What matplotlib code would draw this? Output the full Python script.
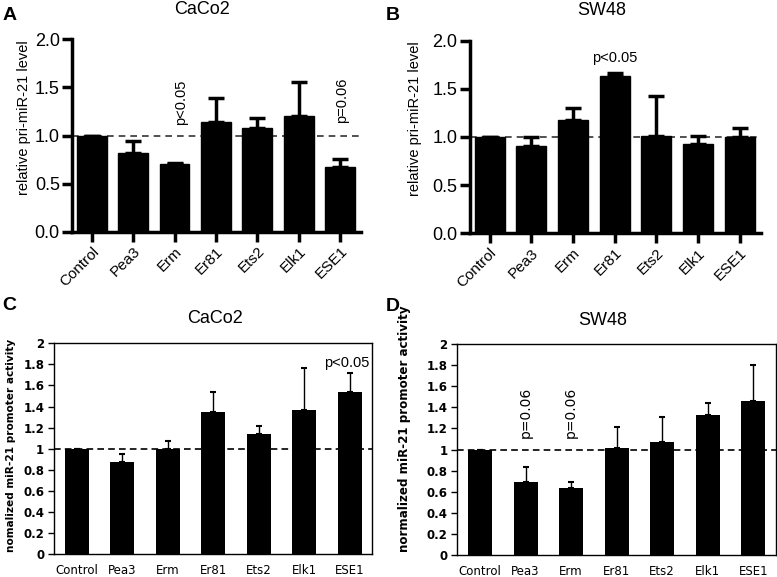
import numpy as np
import matplotlib
matplotlib.use("Agg")
import matplotlib.pyplot as plt
from matplotlib import ticker

cats = ["Control", "Pea3", "Erm", "Er81", "Ets2", "Elk1", "ESE1"]

# A: CaCo2, pri-miR-21
a_mean = [1.0, 0.82, 0.70, 1.145, 1.08, 1.20, 0.675]
a_err = [0.0, 0.125, 0.01, 0.25, 0.10, 0.36, 0.077]
# B: SW48, pri-miR-21
b_mean = [1.0, 0.91, 1.176, 1.637, 1.01, 0.924, 1.0]
b_err = [0.0, 0.085, 0.12, 0.03, 0.42, 0.086, 0.09]
# C: CaCo2, promoter activity
c_mean = [1.0, 0.873, 1.0, 1.35, 1.136, 1.367, 1.538]
c_err = [0.0, 0.078, 0.07, 0.19, 0.08, 0.395, 0.177]
# D: SW48, promoter activity
d_mean = [1.0, 0.692, 0.632, 1.011, 1.074, 1.324, 1.457]
d_err = [0.0, 0.142, 0.057, 0.205, 0.237, 0.12, 0.347]

ARIAL = "Liberation Sans"
VERD = "DejaVu Sans"

fig = plt.figure(figsize=(7.77, 5.77), dpi=100)
x = np.arange(len(cats))


def prism_panel(rect, mean, err):
    ax = fig.add_axes(rect)
    ax.bar(x, mean, width=0.72, color="black", edgecolor="black", zorder=2)
    ax.errorbar(x, mean, yerr=[np.zeros(len(err)), err], fmt="none", ecolor="black",
                elinewidth=2.5, capsize=6, capthick=2.5, zorder=3)
    ax.axhline(1.0, color="#333333", lw=1.2, ls=(0, (4, 3)), zorder=1)
    ax.set_xlim(-0.47, 6.5)
    ax.set_ylim(0, 2.0)
    ax.yaxis.set_major_locator(ticker.MultipleLocator(0.5))
    ax.yaxis.set_major_formatter(ticker.FormatStrFormatter("%.1f"))
    ax.set_xticks(x)
    ax.set_xticklabels(cats, rotation=45, ha="right", rotation_mode="anchor",
                       fontsize=11, family=ARIAL)
    for lab in ax.get_yticklabels():
        lab.set_family(ARIAL)
        lab.set_fontsize(13)
    for s in ["top", "right"]:
        ax.spines[s].set_visible(False)
    for s in ["left", "bottom"]:
        ax.spines[s].set_linewidth(2.5)
    ax.tick_params(direction="out", length=7, width=2.5, pad=2)
    return ax


def excel_panel(rect, mean, err):
    ax = fig.add_axes(rect)
    ax.bar(x, mean, width=0.53, color="black", zorder=2)
    ax.errorbar(x, mean, yerr=[np.zeros(len(err)), err], fmt="none", ecolor="black",
                elinewidth=1.0, capsize=2, capthick=1.5, zorder=3)
    ax.axhline(1.0, color="black", lw=1.2, ls=(0, (4, 2.5)), zorder=1)
    ax.set_xlim(-0.5, 6.5)
    ax.set_ylim(0, 2.0)
    ax.yaxis.set_major_locator(ticker.MultipleLocator(0.2))
    ax.yaxis.set_major_formatter(ticker.FuncFormatter(lambda v, p: "%g" % round(v, 1)))
    ax.set_xticks(x)
    ax.set_xticklabels(cats, fontsize=8.5, family=VERD)
    for lab in ax.get_yticklabels():
        lab.set_family(VERD)
        lab.set_fontsize(8.5)
        lab.set_fontweight("bold")
    for s in ax.spines.values():
        s.set_linewidth(1.0)
    ax.tick_params(axis="y", direction="out", length=4, width=1, pad=3)
    ax.tick_params(axis="x", length=0, pad=7)
    return ax


# panel A
ax = prism_panel([0.0931, 0.5984, 0.3711, 0.3335], a_mean, a_err)
ax.text(2.15, 1.11, "p<0.05", rotation=90, ha="center", va="bottom", fontsize=10.5, family=ARIAL)
ax.text(6.06, 1.13, "p=0.06", rotation=90, ha="center", va="bottom", fontsize=10.5, family=ARIAL)

# panel B
ax = prism_panel([0.6049, 0.5957, 0.3741, 0.3338], b_mean, b_err)
ax.text(3, 1.82, "p<0.05", ha="center", va="center", fontsize=10.5, family=ARIAL)

# panel C
ax = excel_panel([0.0695, 0.0399, 0.4097, 0.3651], c_mean, c_err)
ax.text(5.93, 1.81, "p<0.05", ha="center", va="center", fontsize=10.5, family=ARIAL)

# panel D
ax = excel_panel([0.5886, 0.0381, 0.4101, 0.3657], d_mean, d_err)
ax.text(1, 1.11, "p=0.06", rotation=90, ha="center", va="bottom", fontsize=10, family=VERD)
ax.text(2, 1.11, "p=0.06", rotation=90, ha="center", va="bottom", fontsize=10, family=VERD)

# titles, panel letters and y labels
fig.text(0.2596, 0.9844, "CaCo2", ha="center", va="center", fontsize=13, family=ARIAL)
fig.text(0.7744, 0.981, "SW48", ha="center", va="center", fontsize=13, family=ARIAL)
fig.text(0.2767, 0.448, "CaCo2", ha="center", va="center", fontsize=13, family=ARIAL)
fig.text(0.776, 0.4454, "SW48", ha="center", va="center", fontsize=13, family=ARIAL)

for lx, ly, letter in [(0.003, 0.974, "A"), (0.497, 0.974, "B"), (0.003, 0.471, "C"), (0.497, 0.468, "D")]:
    fig.text(lx, ly, letter, ha="left", va="center", fontsize=14, fontweight="bold", family=ARIAL)

fig.text(0.031, 0.797, "relative pri-miR-21 level", rotation=90, ha="center", va="center",
         fontsize=10.5, family=ARIAL)
fig.text(0.534, 0.795, "relative pri-miR-21 level", rotation=90, ha="center", va="center",
         fontsize=10.5, family=ARIAL)
fig.text(0.0142, 0.2288, "nomalized miR-21 promoter activity", rotation=90, ha="center", va="center",
         fontsize=7.6, fontweight="bold", family=VERD)
fig.text(0.521, 0.2574, "normalized miR-21 promoter activity", rotation=90, ha="center", va="center",
         fontsize=8.6, fontweight="bold", family=VERD)

fig.savefig("out.png", dpi=100)
